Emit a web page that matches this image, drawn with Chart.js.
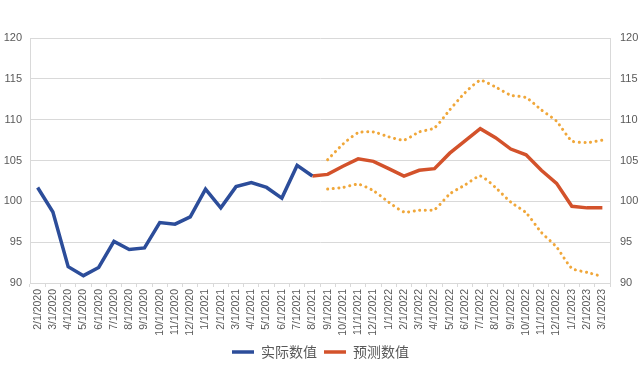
<!DOCTYPE html>
<html lang="zh">
<head>
    <meta charset="UTF-8">
    <title>实际数值与预测数值</title>
    <script src="https://cdn.jsdelivr.net/npm/chart.js"></script>
    <style>
        body {
            margin: 0;
            padding: 0;
            background-color: #fff;
        }
        .chart-box {
            width: 641px;
            height: 377px;
        }
    </style>
</head>
<body>
    <div class="chart-box">
        <canvas id="mainChart" width="641" height="377"></canvas>
    </div>

    <script>
        const months = [
            '2/1/2020', '3/1/2020', '4/1/2020', '5/1/2020', '6/1/2020', '7/1/2020', '8/1/2020',
            '9/1/2020', '10/1/2020', '11/1/2020', '12/1/2020', '1/1/2021', '2/1/2021', '3/1/2021',
            '4/1/2021', '5/1/2021', '6/1/2021', '7/1/2021', '8/1/2021', '9/1/2021', '10/1/2021',
            '11/1/2021', '12/1/2021', '1/1/2022', '2/1/2022', '3/1/2022', '4/1/2022', '5/1/2022',
            '6/1/2022', '7/1/2022', '8/1/2022', '9/1/2022', '10/1/2022', '11/1/2022', '12/1/2022',
            '1/1/2023', '2/1/2023', '3/1/2023'
        ];

        // 2/2020 - 8/2021
        const actualValues = [
            101.7, 98.7, 92.0, 90.9, 91.9, 95.1, 94.1, 94.3, 97.4, 97.2,
            98.1, 101.5, 99.2, 101.8, 102.3, 101.7, 100.4, 104.4, 103.1
        ];

        // 8/2021 - 3/2023
        const forecastValues = [
            103.1, 103.3, 104.3, 105.2, 104.9, 104.0, 103.1, 103.8, 104.0, 105.9,
            107.4, 108.9, 107.8, 106.4, 105.7, 103.8, 102.2, 99.4, 99.2, 99.2
        ];

        // 9/2021 - 3/2023
        const upperValues = [
            105.1, 107.0, 108.4, 108.5, 107.9, 107.5, 108.5, 109.0, 111.2, 113.3,
            114.8, 114.0, 113.0, 112.7, 111.2, 109.8, 107.4, 107.2, 107.5
        ];
        const lowerValues = [
            101.5, 101.7, 102.1, 101.3, 99.9, 98.7, 98.9, 99.0, 100.9, 102.0,
            103.1, 101.7, 99.9, 98.6, 96.2, 94.4, 91.8, 91.3, 90.8
        ];

        const yTicks = [90, 95, 100, 105, 110, 115, 120];

        const textColor = '#595959';
        const gridColor = '#d9d9d9';

        // pad a series with nulls so it lines up with the months
        function placeAt(values, startIndex) {
            const out = new Array(months.length).fill(null);
            values.forEach((v, i) => { out[startIndex + i] = v; });
            return out;
        }

        const ctx = document.getElementById('mainChart').getContext('2d');
        new Chart(ctx, {
            type: 'line',
            data: {
                labels: months,
                datasets: [
                    {
                        label: '实际数值',
                        data: placeAt(actualValues, 0),
                        borderColor: '#2c4d9a',
                        backgroundColor: '#2c4d9a',
                        borderWidth: 3.5,
                        pointRadius: 0,
                        tension: 0,
                        fill: false
                    },
                    {
                        label: '预测数值',
                        data: placeAt(forecastValues, 18),
                        borderColor: '#d3522b',
                        backgroundColor: '#d3522b',
                        borderWidth: 3.5,
                        pointRadius: 0,
                        tension: 0,
                        fill: false
                    },
                    {
                        label: '上限',
                        data: placeAt(upperValues, 19),
                        borderColor: '#f0a73a',
                        borderWidth: 3,
                        borderDash: [0.1, 5.5],
                        borderCapStyle: 'round',
                        pointRadius: 0,
                        tension: 0.2,
                        fill: false
                    },
                    {
                        label: '下限',
                        data: placeAt(lowerValues, 19),
                        borderColor: '#f0a73a',
                        borderWidth: 3,
                        borderDash: [0.1, 5.5],
                        borderCapStyle: 'round',
                        pointRadius: 0,
                        tension: 0.2,
                        fill: false
                    }
                ]
            },
            options: {
                responsive: false,
                animation: false,
                layout: {
                    padding: { top: 38, left: 0, right: 0, bottom: 8 }
                },
                plugins: {
                    tooltip: { enabled: false },
                    legend: {
                        position: 'bottom',
                        labels: {
                            filter: item => item.datasetIndex < 2,
                            usePointStyle: true,
                            pointStyle: 'line',
                            pointStyleWidth: 22,
                            color: textColor,
                            padding: 7,
                            font: { family: '"Noto Sans CJK SC", sans-serif', size: 14 },
                            generateLabels: chart => chart.data.datasets.map((ds, i) => ({
                                text: ds.label,
                                datasetIndex: i,
                                strokeStyle: ds.borderColor,
                                fillStyle: ds.borderColor,
                                lineWidth: 3.5,
                                pointStyle: 'line',
                                fontColor: textColor,
                                hidden: false
                            }))
                        }
                    }
                },
                scales: {
                    x: {
                        offset: true,
                        grid: {
                            offset: true,
                            drawOnChartArea: false,
                            color: gridColor,
                            tickLength: 4
                        },
                        border: { color: gridColor },
                        ticks: {
                            autoSkip: false,
                            maxRotation: 90,
                            minRotation: 90,
                            color: textColor,
                            padding: 2,
                            font: { family: '"Liberation Sans", Arial, sans-serif', size: 10.5 }
                        },
                        afterFit: scale => { scale.height = 55; }
                    },
                    y: {
                        position: 'left',
                        min: 90,
                        max: 120,
                        afterBuildTicks: scale => { scale.ticks = yTicks.map(v => ({ value: v })); },
                        grid: { color: gridColor, drawTicks: false },
                        border: { color: gridColor },
                        ticks: {
                            color: textColor,
                            padding: 8,
                            font: { family: '"Liberation Sans", Arial, sans-serif', size: 11 }
                        },
                        afterFit: scale => { scale.width = 30; }
                    },
                    y2: {
                        position: 'right',
                        min: 90,
                        max: 120,
                        afterBuildTicks: scale => { scale.ticks = yTicks.map(v => ({ value: v })); },
                        grid: { drawOnChartArea: false, drawTicks: false },
                        border: { color: gridColor },
                        ticks: {
                            color: textColor,
                            padding: 10,
                            font: { family: '"Liberation Sans", Arial, sans-serif', size: 11 }
                        },
                        afterFit: scale => { scale.width = 31; }
                    }
                }
            }
        });
    </script>
</body>
</html>
